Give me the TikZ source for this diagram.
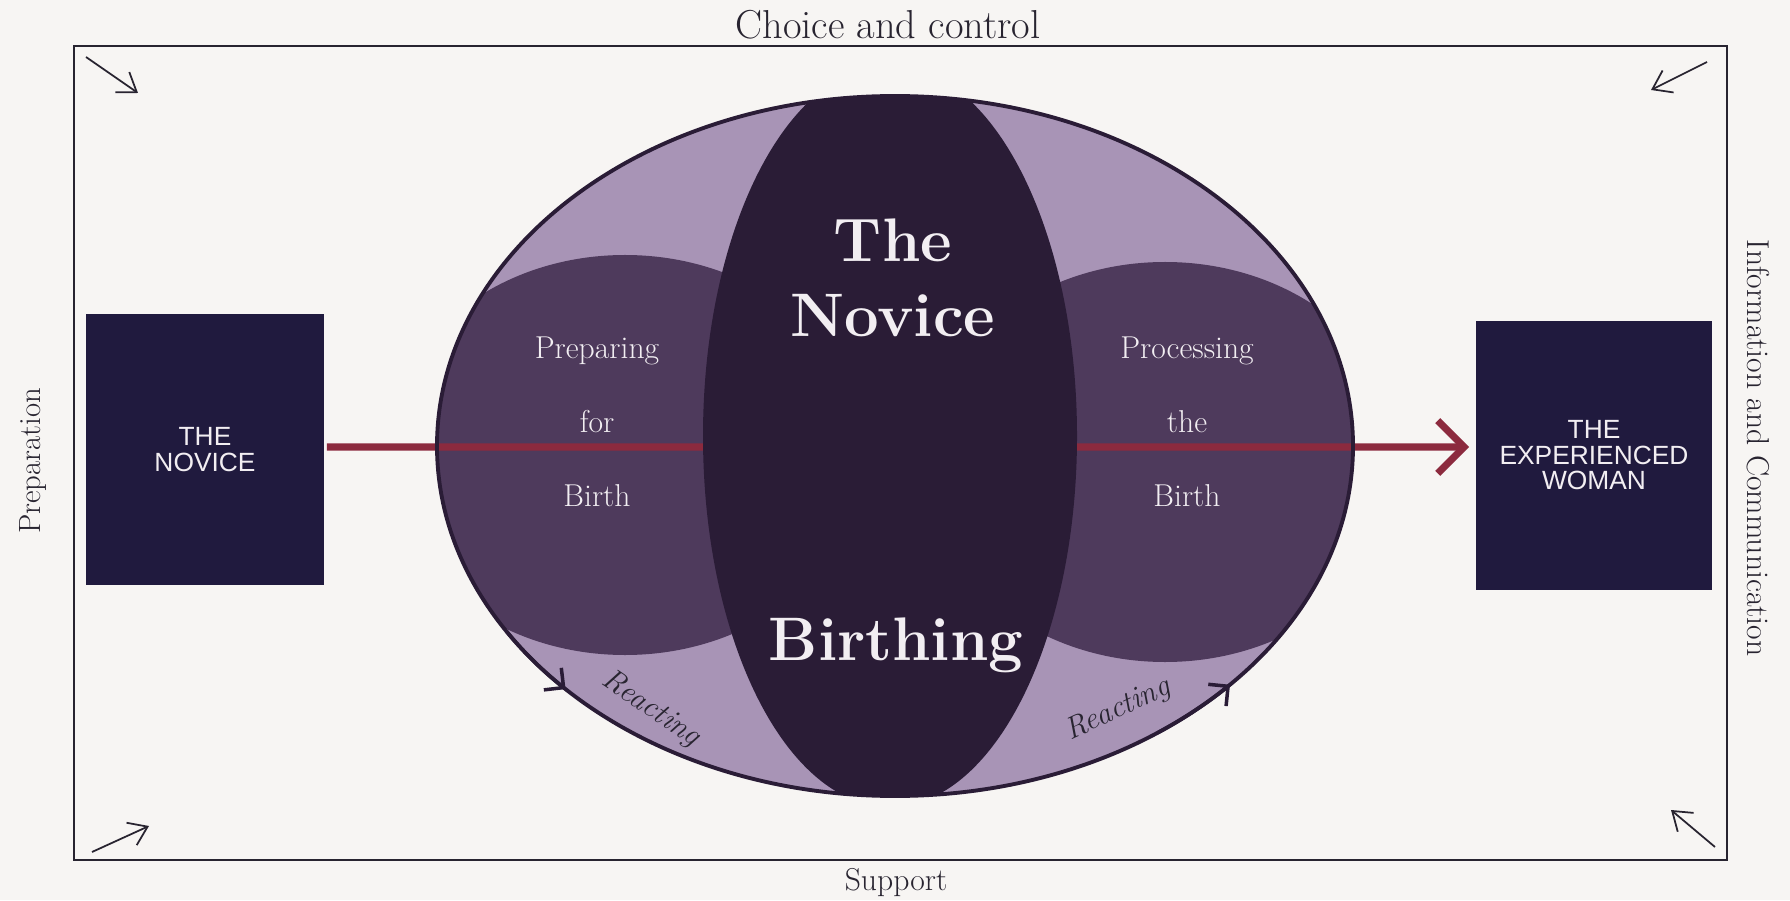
\documentclass[tikz,border=0pt]{standalone}
\usepackage{fontspec}
\newfontfamily\boxfont{Liberation Sans}
\usepackage{tikz}
\usetikzlibrary{positioning,arrows.meta,calc}

\definecolor{paper}{RGB}{247,245,243}
\definecolor{ink}{RGB}{40,36,48}
\definecolor{lilac}{RGB}{168,148,182}
\definecolor{plum}{RGB}{78,58,92}
\definecolor{aubergine}{RGB}{42,28,54}
\definecolor{navy}{RGB}{32,26,62}
\definecolor{wine}{RGB}{140,42,62}
\definecolor{chalk}{RGB}{242,238,242}

\begin{document}
\begin{tikzpicture}[x=0.02cm, y=0.02cm,
    outerframe/.style={draw=ink, line width=1.1pt, inner sep=0pt, outer sep=0pt},
    sidelbl/.style={text=ink, inner sep=0pt, anchor=base},
    stagebox/.style={fill=navy, inner sep=0pt, outer sep=0pt, text=chalk, align=center, font=\boxfont\fontsize{15}{14.5}\selectfont},
    phase/.style={text=chalk, align=center, inner sep=0pt, font=\fontsize{18}{42}\selectfont},
    core/.style={text=chalk, inner sep=0pt, anchor=base, font=\bfseries\fontsize{35}{35}\selectfont},
    react/.style={text=ink, inner sep=0pt, font=\itshape\fontsize{17.5}{17.5}\selectfont},
    flow/.style={draw=wine, line width=4pt, shorten <=0.06cm, shorten >=0.14cm, -{Straight Barb[length=15pt,width=30pt]}},
    cornerarrow/.style={draw=ink, line width=1pt, -{Straight Barb[length=10pt,width=14pt]}},
    turn/.style={draw=aubergine, line width=2pt, -{Straight Barb[length=8pt,width=16pt]}}]
    \useasboundingbox (0,0) rectangle (1790,900);
    \fill[paper] (0,0) rectangle (1790,900);
    % frame and its four sides
    \node[outerframe, minimum width=33.06cm, minimum height=16.28cm] (frame) at (900.5,447) {};
    \node[sidelbl, font=\fontsize{23}{23}\selectfont] (choice) at (888,861) {Choice and control};
    \node[sidelbl, font=\fontsize{18}{18}\selectfont] (support) at (896,10) {Support};
    \node[sidelbl, rotate=90, font=\fontsize{17.5}{17.5}\selectfont] (prepside) at (40,439) {Preparation};
    \node[sidelbl, rotate=-90, font=\fontsize{18}{18}\selectfont] (infoside) at (1747,452) {Information and Communication};
    \draw[cornerarrow] (86,843) -- (138,807);
    \draw[cornerarrow] (1707,838) -- (1651,810);
    \draw[cornerarrow] (92,48) -- (149,74);
    \draw[cornerarrow] (1715,53) -- (1671,90);
    % start and end
    \node[stagebox, minimum width=4.76cm, minimum height=5.42cm] (novice) at (205,450.5) {\raisebox{-0.08cm}{THE}\\\raisebox{-0.08cm}{NOVICE}};
    \node[stagebox, minimum width=4.72cm, minimum height=5.38cm] (woman) at (1594,444.5) {THE\\EXPERIENCED\\WOMAN};
    % oval with the two phases
    \coordinate (oc) at (895,454);
    \begin{scope}
      \clip (oc) ellipse [x radius=458, y radius=350];
      \fill[lilac] (oc) ellipse [x radius=458, y radius=350];
      \fill[plum] (625,445) ellipse [x radius=240, y radius=200];
      \fill[plum] (1165,438) ellipse [x radius=240, y radius=200];
    \end{scope}
    \draw[flow] ([yshift=0.05cm]novice.east) -- ([yshift=0.17cm]woman.west);
    \begin{scope}
      \clip (oc) ellipse [x radius=458, y radius=350];
      \fill[aubergine] (890,464) ellipse [x radius=187, y radius=371];
    \end{scope}
    \draw[aubergine, line width=2.2pt] (oc) ellipse [x radius=458, y radius=350];
    \draw[turn] (oc) ++(212:458 and 350) arc[start angle=212, end angle=224, x radius=458, y radius=350];
    \draw[turn] (oc) ++(305:458 and 350) arc[start angle=305, end angle=317, x radius=458, y radius=350];
    % labels
    \node[core] (the) at (893,638) {The};
    \node[core] (novicetxt) at ([yshift=-1.5cm]the.base) {Novice};
    \node[core] (birthing) at (896,240) {Birthing};
    \node[phase] (preparing) at (597,478) {Preparing\\for\\Birth};
    \node[phase] (processing) at (1187,478) {Processing\\the\\Birth};
    \node[react, rotate=-34] (reactl) at (651,191) {Reacting};
    \node[react, rotate=25] (reactr) at (1118,190) {Reacting};
\end{tikzpicture}
\end{document}
